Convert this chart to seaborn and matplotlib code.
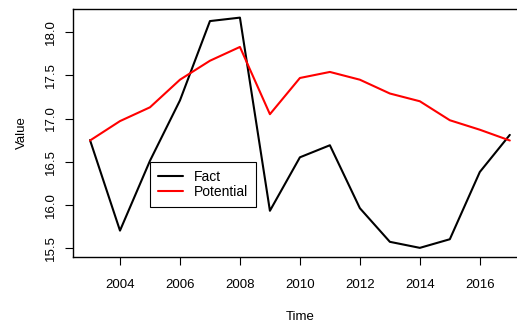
import numpy as np
import pandas as pd
import matplotlib
matplotlib.use("Agg")
import matplotlib.pyplot as plt
import seaborn as sns
from matplotlib.lines import Line2D

years = list(range(2003, 2018))
fact = [16.75, 15.70, 16.51, 17.21, 18.13, 18.17, 15.93, 16.55, 16.69, 15.96,
        15.57, 15.50, 15.60, 16.38, 16.81]
potential = [16.745, 16.97, 17.13, 17.45, 17.67, 17.83, 17.05, 17.47, 17.54, 17.45,
             17.29, 17.20, 16.98, 16.87, 16.745]
series_names = ["Fact", "Potential"]
series_colors = ["black", "red"]
x_ticks = [2004, 2006, 2008, 2010, 2012, 2014, 2016]
y_ticks = [15.5, 16.0, 16.5, 17.0, 17.5, 18.0]

sns.set_style("white")
plt.rcParams['font.family'] = ['Liberation Sans', 'DejaVu Sans']
plt.rcParams['text.color'] = 'black'
plt.rcParams['axes.labelcolor'] = 'black'
plt.rcParams['xtick.color'] = 'black'
plt.rcParams['ytick.color'] = 'black'

df = pd.DataFrame({
    "Time": years * 2,
    "Value": fact + potential,
    "Series": [series_names[0]] * len(years) + [series_names[1]] * len(years),
})

W, H = 517, 323
fig = plt.figure(figsize=(W / 100, H / 100), dpi=100)
left, right, top, bottom = 73, 526.8, 9, 257
ax = fig.add_axes([left / W, 1 - bottom / H, (right - left) / W, (bottom - top) / H])

sns.lineplot(data=df, x="Time", y="Value", hue="Series", palette=series_colors,
             linewidth=1.5, ax=ax, legend=False)

ax.set_xlim(2002.433, 2017.567)
ax.set_ylim(15.394, 18.27)
ax.set_xticks(x_ticks)
ax.set_xticklabels([str(t) for t in x_ticks])
ax.set_yticks(y_ticks)
ax.set_yticklabels([f"{t:.1f}" for t in y_ticks], rotation=90, va="center")
ax.tick_params(axis="both", direction="out", length=5.5, width=0.8, color="black",
               labelcolor="black", labelsize=9.5, left=True, bottom=True)
ax.tick_params(axis="x", pad=10)
ax.tick_params(axis="y", pad=6)
for s in ax.spines.values():
    s.set_visible(True)
    s.set_color("black")
    s.set_linewidth(1.0)

ax.set_xlabel("Time", fontsize=9.5, labelpad=15)
ax.set_ylabel("Value", fontsize=9.5, labelpad=12)

handles = [Line2D([0], [0], color=c, lw=1.5) for c in series_colors]
leg = fig.legend(handles, series_names, loc="upper left",
                 bbox_to_anchor=(150 / W, 1 - 162 / H), bbox_transform=fig.transFigure,
                 frameon=True, fancybox=False, framealpha=1, edgecolor="black",
                 fontsize=10, handlelength=1.75, handletextpad=0.8, borderpad=0.6,
                 labelspacing=0.05, borderaxespad=0)
leg.get_frame().set_linewidth(0.8)

fig.savefig("out.png", dpi=100)
